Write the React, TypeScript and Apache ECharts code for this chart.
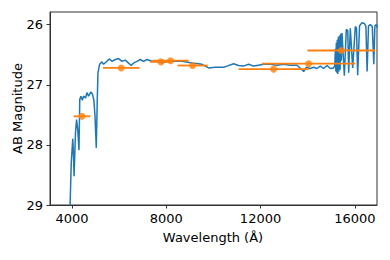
import React, { useEffect, useRef } from "react";
import * as echarts from "echarts";

// Spectrum (wavelength in Å, AB magnitude)
const specWave = [
  3880, 3972, 4036, 4070, 4091, 4151, 4197, 4248, 4299, 4333, 4384, 4439, 4494, 4579, 4638, 4706,
  4808, 4876, 4935, 4978, 5033, 5075, 5105, 5173, 5275, 5343, 5487, 5584, 5699, 5839, 5979, 6123,
  6263, 6403, 6518, 6615, 6759, 6899, 7039, 7184, 7396, 7608, 7820, 8032, 8312, 8668, 9093, 9517,
  9797, 10081, 10433, 10577, 10857, 11069, 11282, 11494, 11706, 11918, 12130, 12414, 12698, 12978,
  13262, 13547, 13759, 13827, 13941, 14111, 14251, 14395, 14535, 14675, 14819, 14959, 15099,
  15150, 15175, 15195, 15215, 15235, 15255, 15275, 15300, 15325, 15350, 15375, 15400, 15425, 15455,
  15555, 15638, 15700, 15738, 15808, 15908, 16020, 16070, 16120, 16200, 16305, 16400, 16470, 16521,
  16580, 16656, 16740, 16804, 16850, 16910, 16960,
];
const specMag = [
  29.6, 28.3, 27.9, 28.2, 28.52, 27.8, 27.58, 27.75, 28.09, 27.24, 27.19, 27.26, 27.19, 27.22, 27.13, 27.19,
  27.12, 27.16, 27.27, 27.52, 28.05, 27.25, 26.8, 26.66, 26.62, 26.66, 26.61, 26.57, 26.61, 26.58, 26.565, 26.61,
  26.59, 26.64, 26.68, 26.64, 26.61, 26.58, 26.61, 26.58, 26.61, 26.6, 26.64, 26.61, 26.61, 26.61, 26.64, 26.66,
  26.72, 26.71, 26.71, 26.69, 26.65, 26.68, 26.69, 26.66, 26.69, 26.675, 26.66, 26.66, 26.675, 26.66,
  26.675, 26.675, 26.75, 26.78, 26.71, 26.73, 26.71, 26.73, 26.69, 26.73, 26.68, 26.73, 26.72,
  26.68, 26.4, 26.78, 26.3, 26.8, 26.25, 26.82, 26.2, 26.78, 26.18, 26.75, 26.15, 26.6, 26.14,
  26.85, 26.08, 26.1, 26.8, 26.06, 26.72, 26.03, 26.06, 26.84, 26.02, 25.97, 25.98, 26.03, 26.78,
  26.02, 26.0, 26.03, 26.66, 26.02, 26.0, 26.05,
];

// Photometric points
const photWave = [4424, 6093, 7777, 8185, 9118, 12554, 14039, 15426];
const photMag = [27.525, 26.72, 26.62, 26.6, 26.68, 26.74, 26.65, 26.43];
const photHalfWidth = [354, 777, 460, 770, 640, 1485, 1980, 1435];

const xTicks = [4000, 8000, 12000, 16000];
const yTicks = [26, 27, 28, 29];

const FONT = "DejaVu Sans";
const AXIS_COLOR = "#333";

export default function App() {
  const ref = useRef<HTMLDivElement>(null);

  useEffect(() => {
    if (!ref.current) return;
    const chart = echarts.init(ref.current, null, { renderer: "svg" });

    const specData = specWave.map((w, i) => [w, specMag[i]]);
    const photData = photWave.map((w, i) => [w, photMag[i]]);
    const errData = photWave.map((w, i) => [w, photMag[i], w - photHalfWidth[i], w + photHalfWidth[i]]);

    chart.setOption({
      animation: false,
      grid: {
        left: 50,
        top: 12,
        right: 13,
        bottom: 55,
        containLabel: false,
        show: true,
        borderColor: AXIS_COLOR,
        borderWidth: 1,
        backgroundColor: "transparent",
      },
      xAxis: {
        type: "value",
        min: 3070,
        max: 16940,
        axisLine: { show: true, lineStyle: { color: AXIS_COLOR, width: 1 } },
        axisTick: { show: true, length: 3.5, customValues: xTicks, lineStyle: { color: AXIS_COLOR } },
        axisLabel: {
          customValues: xTicks,
          formatter: (v: number) => String(v),
          color: "#000",
          fontFamily: FONT,
          fontSize: 13,
          margin: 7,
        },
        splitLine: { show: false },
      },
      yAxis: {
        type: "value",
        inverse: true,
        min: 25.79,
        max: 29,
        axisLine: { show: true, lineStyle: { color: AXIS_COLOR, width: 1 } },
        axisTick: { show: true, length: 3.5, customValues: yTicks, lineStyle: { color: AXIS_COLOR } },
        axisLabel: {
          customValues: yTicks,
          formatter: (v: number) => String(v),
          color: "#000",
          fontFamily: FONT,
          fontSize: 13,
          margin: 7,
        },
        splitLine: { show: false },
      },
      graphic: [
        {
          type: "text",
          x: 213,
          y: 237,
          style: {
            text: "Wavelength (Å)",
            fontFamily: FONT,
            fontSize: 13,
            fill: "#000",
            textAlign: "center",
            textVerticalAlign: "middle",
          },
        },
        {
          type: "text",
          x: 17.5,
          y: 108.5,
          rotation: Math.PI / 2,
          style: {
            text: "AB Magnitude",
            fontFamily: FONT,
            fontSize: 13,
            fill: "#000",
            textAlign: "center",
            textVerticalAlign: "middle",
          },
        },
      ],
      series: [
        {
          type: "line",
          data: specData,
          showSymbol: false,
          symbol: "none",
          clip: true,
          lineStyle: { color: "#1f77b4", width: 1.5 },
          z: 2,
        },
        {
          type: "custom",
          data: errData,
          encode: { x: [0, 2, 3], y: 1 },
          clip: true,
          z: 3,
          renderItem: (params: any, api: any) => {
            const p1 = api.coord([api.value(2), api.value(1)]);
            const p2 = api.coord([api.value(3), api.value(1)]);
            return {
              type: "line",
              shape: { x1: p1[0], y1: p1[1], x2: p2[0], y2: p2[1] },
              style: { stroke: "#ff7f0e", lineWidth: 1.8 },
            };
          },
        },
        {
          type: "scatter",
          data: photData,
          symbol: "circle",
          symbolSize: 7,
          itemStyle: { color: "#ff7f0e" },
          z: 4,
        },
      ],
    });

    return () => chart.dispose();
  }, []);

  return (
    <div
      ref={ref}
      style={{ position: "fixed", left: 0, top: 0, width: 390, height: 260, background: "#fff" }}
    />
  );
}
